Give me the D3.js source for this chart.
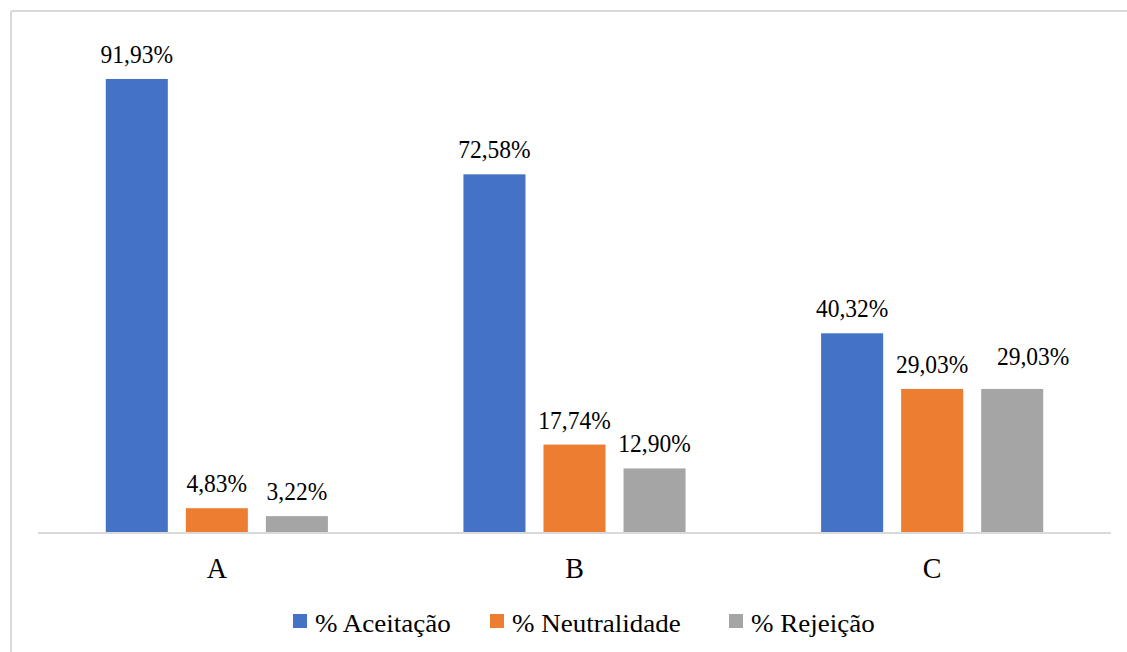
<!DOCTYPE html>
<html>
<head>
<meta charset="utf-8">
<script src="https://cdn.jsdelivr.net/npm/d3@7"></script>
<style>
html, body { margin: 0; padding: 0; background: #fff; }
svg { display: block; }
</style>
</head>
<body>
<svg id="chart" width="1127" height="652"></svg>
<script>
const categories = ["A", "B", "C"];
const seriesNames = ["% Aceitação", "% Neutralidade", "% Rejeição"];
const aceitacao = [91.93, 72.58, 40.32];
const neutralidade = [4.83, 17.74, 29.03];
const rejeicao = [3.22, 12.90, 29.03];
const labels = [
  ["91,93%", "72,58%", "40,32%"],
  ["4,83%", "17,74%", "29,03%"],
  ["3,22%", "12,90%", "29,03%"]
];
const colors = ["#4472C4", "#ED7D31", "#A5A5A5"];
const series = [aceitacao, neutralidade, rejeicao];

const SERIF = "Liberation Serif";
const BASE = 48; // render text large, then scale down
const svg = d3.select("#chart");
const W = 1127, H = 652;

function serifText(parent, x, y, str, sx, sy, anchor) {
  return parent.append("text")
    .attr("transform", `translate(${x},${y}) scale(${sx / BASE},${sy / BASE})`)
    .attr("text-anchor", anchor || "start")
    .attr("fill", "#000")
    .style("font-family", SERIF)
    .style("font-size", BASE + "px")
    .text(str);
}

// outer chart border (partially cropped: only top and left visible)
svg.append("line").attr("x1", 11).attr("x2", W).attr("y1", 11).attr("y2", 11)
  .attr("stroke", "#d9d9d9").attr("stroke-width", 2);
svg.append("line").attr("x1", 11).attr("x2", 11).attr("y1", 11).attr("y2", H)
  .attr("stroke", "#d9d9d9").attr("stroke-width", 2);

const plotLeft = 38, plotRight = 1111, baseY = 532, topY = 39.2;
const x0 = d3.scaleBand().domain(categories).range([plotLeft, plotRight])
  .paddingInner(0.379).paddingOuter(0.1895);
const x1 = d3.scaleBand().domain(d3.range(3)).range([0, x0.bandwidth()]).paddingInner(0.225);
const y = d3.scaleLinear().domain([0, 100]).range([baseY, topY]);

// bars
series.forEach((vals, s) => {
  svg.append("g").selectAll("rect").data(vals).join("rect")
    .attr("x", (d, i) => x0(categories[i]) + x1(s))
    .attr("y", d => y(d))
    .attr("width", x1.bandwidth())
    .attr("height", d => y(0) - y(d))
    .attr("fill", colors[s]);
});

// axis line + category labels
const xAxis = d3.axisBottom(x0).tickSize(0).tickPadding(0);
const gx = svg.append("g").attr("transform", `translate(0,${baseY})`).call(xAxis);
gx.select(".domain").attr("stroke", "#d9d9d9").attr("stroke-width", 2)
  .attr("d", `M${plotLeft},1H${plotRight}`);
gx.selectAll(".tick text").each(function(d) {
  const t = d3.select(this);
  t.attr("y", null).attr("dy", null)
    .attr("transform", `translate(0,46) scale(${28 / BASE},${29 / BASE})`)
    .attr("fill", "#000")
    .style("font-family", SERIF).style("font-size", BASE + "px");
});

// data labels
const lblG = svg.append("g");
series.forEach((vals, s) => {
  vals.forEach((d, i) => {
    let cx = x0(categories[i]) + x1(s) + x1.bandwidth() / 2;
    let cy = y(d) - 16;
    if (s === 2 && i === 2) { cx += 21; cy -= 8; }
    serifText(lblG, cx, cy, labels[s][i], 23.5, 26, "middle");
  });
});

// legend
const legendItems = [
  { x: 293, name: seriesNames[0], color: colors[0] },
  { x: 490, name: seriesNames[1], color: colors[1] },
  { x: 729, name: seriesNames[2], color: colors[2] }
];
const lg = svg.append("g");
legendItems.forEach(it => {
  lg.append("rect").attr("x", it.x).attr("y", 614).attr("width", 14).attr("height", 14).attr("fill", it.color);
  serifText(lg, it.x + 22, 632, it.name, 27, 26);
});
</script>
</body>
</html>
